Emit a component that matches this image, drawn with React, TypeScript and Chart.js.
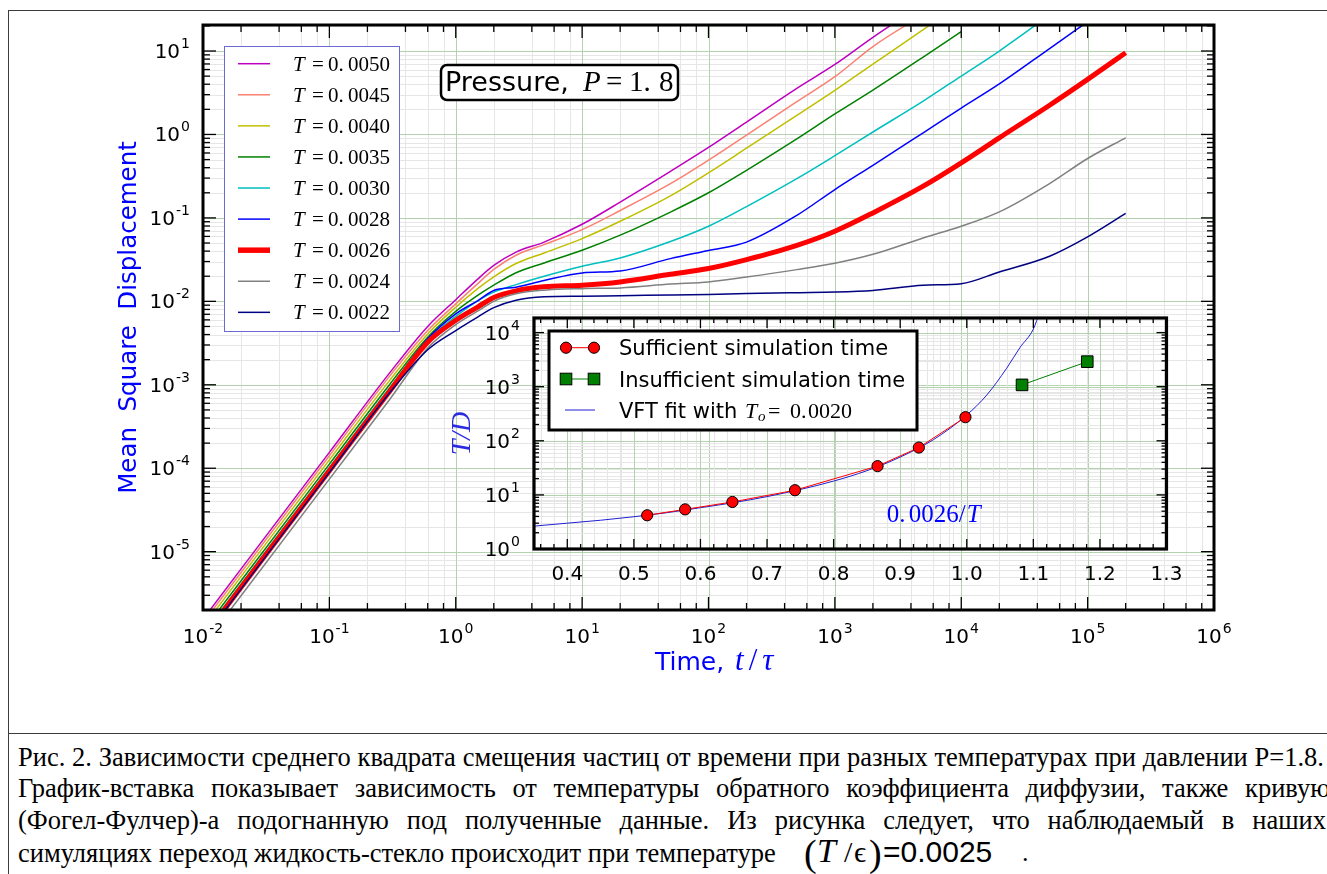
import React, { useEffect, useRef } from "react";
import { Chart, registerables } from "chart.js";

Chart.register(...registerables);

// ---------------- main chart data ----------------
const TIME = [0.01, 0.1, 0.3, 0.6, 1, 1.5, 2, 3, 5, 10, 20, 50, 100, 200, 500, 1000, 2000, 5000, 1e4, 2e4, 5e4, 1e5, 2e5];
const TEMP_LABELS = ["0.0050", "0.0045", "0.0040", "0.0035", "0.0030", "0.0028", "0.0026", "0.0024", "0.0022"];

const MSD_T0050 = [1.55e-6, 1.55e-4, 1.39e-3, 5.01e-3, 0.01047, 0.01862, 0.02692, 0.0389, 0.0513, 0.0839, 0.1545, 0.361, 0.698, 1.41, 3.57, 6.9, 14.6, 36.6, null, null, null, null, null];
const MSD_T0045 = [1.41e-6, 1.41e-4, 1.27e-3, 4.47e-3, 9.33e-3, 0.0164, 0.0241, 0.0357, 0.0479, 0.0724, 0.1227, 0.257, 0.492, 0.984, 2.47, 4.92, 11.3, 27.3, null, null, null, null, null];
const MSD_T0040 = [1.26e-6, 1.26e-4, 1.13e-3, 4.07e-3, 8.51e-3, 0.0143, 0.0197, 0.0284, 0.038, 0.0565, 0.0912, 0.184, 0.347, 0.684, 1.69, 3.37, 6.98, 18.0, 37.2, null, null, null, null];
const MSD_T0035 = [1.12e-6, 1.12e-4, 1.01e-3, 3.72e-3, 7.59e-3, 0.01186, 0.0156, 0.022, 0.0288, 0.0409, 0.0621, 0.1175, 0.2, 0.372, 0.883, 1.76, 3.4, 8.47, 17.1, null, null, null, null];
const MSD_T0030 = [1.02e-6, 1.02e-4, 9.2e-4, 3.47e-3, 6.61e-3, 0.01023, 0.01288, 0.01585, 0.01995, 0.0263, 0.0331, 0.0521, 0.0794, 0.1365, 0.295, 0.556, 1.07, 2.51, 5.01, 10.0, 26.9, null, null];
const MSD_T0028 = [9.77e-7, 9.77e-5, 8.79e-4, 3.55e-3, 7.08e-3, 0.01023, 0.01349, 0.01479, 0.01778, 0.0219, 0.0231, 0.0325, 0.0407, 0.0513, 0.1072, 0.2188, 0.4266, 1.047, 2.07, 4.03, 10.7, 22.4, null];
const MSD_T0026 = [9.33e-7, 9.33e-5, 8.39e-4, 3.24e-3, 5.93e-3, 8.59e-3, 0.01112, 0.01337, 0.01493, 0.0156, 0.0171, 0.0211, 0.0247, 0.0316, 0.0468, 0.0692, 0.1148, 0.24, 0.457, 0.912, 2.24, 4.57, 9.55];
const MSD_T0024 = [7.41e-7, 7.41e-5, 6.67e-4, 2.75e-3, 5.25e-3, 7.67e-3, 0.01, 0.0123, 0.01361, 0.0142, 0.0145, 0.0161, 0.0171, 0.0196, 0.024, 0.0286, 0.0366, 0.0575, 0.0794, 0.118, 0.258, 0.515, 0.912];
const MSD_T0022 = [8.91e-7, 8.91e-5, 8.02e-4, 2.63e-3, 4.47e-3, 6.53e-3, 8.41e-3, 0.01033, 0.01132, 0.0115, 0.0117, 0.0119, 0.0121, 0.0124, 0.0127, 0.0129, 0.0135, 0.0156, 0.0163, 0.0225, 0.0347, 0.0592, 0.113];

const MSD_SERIES = [MSD_T0050, MSD_T0045, MSD_T0040, MSD_T0035, MSD_T0030, MSD_T0028, MSD_T0026, MSD_T0024, MSD_T0022];
const SERIES_COLORS = ["#bf00bf", "#fa8072", "#bfbf00", "#008000", "#00bfbf", "#0000ff", "#ff0000", "#808080", "#000080"];
const SERIES_WIDTHS = [1.5, 1.5, 1.5, 1.5, 1.5, 1.5, 5, 1.5, 1.5];

const MAIN_X_MAJOR = [1e-2, 1e-1, 1, 10, 100, 1e3, 1e4, 1e5, 1e6];
const MAIN_X_EXP = ["-2", "-1", "0", "1", "2", "3", "4", "5", "6"];
const MAIN_Y_MAJOR = [1e-5, 1e-4, 1e-3, 1e-2, 1e-1, 1, 10];
const MAIN_Y_EXP = ["-5", "-4", "-3", "-2", "-1", "0", "1"];

// ---------------- inset data ----------------
const INV_T_SUFF = [0.52, 0.577, 0.648, 0.742, 0.866, 0.928, 0.998];
const TD_SUFF = [4.2, 5.4, 7.4, 12.2, 34, 75, 273];
const INV_T_INSUFF = [1.083, 1.181];
const TD_INSUFF = [1080, 2900];
const VFT_X = [0.35, 0.4, 0.45, 0.5, 0.55, 0.6, 0.65, 0.7, 0.75, 0.8, 0.85, 0.9, 0.95, 1.0, 1.03, 1.06, 1.08, 1.1, 1.11];
const VFT_Y = [2.65, 3.0, 3.4, 3.95, 4.7, 5.8, 7.2, 9.3, 12.6, 18, 28, 50, 105, 300, 700, 2200, 5300, 11600, 25000];

const INSET_X_TICKS = [0.4, 0.5, 0.6, 0.7, 0.8, 0.9, 1.0, 1.1, 1.2, 1.3];
const INSET_X_LABELS = ["0.4", "0.5", "0.6", "0.7", "0.8", "0.9", "1.0", "1.1", "1.2", "1.3"];
const INSET_Y_MAJOR = [1, 10, 100, 1000, 10000];
const INSET_Y_EXP = ["0", "1", "2", "3", "4"];

const GRID_MAJOR = "#b4d2b0";
const GRID_MINOR = "#e6e6e6";
const SANS = '"DejaVu Sans"';
const SERIF = '"Liberation Serif"';

function seg(ctx: CanvasRenderingContext2D, x1: number, y1: number, x2: number, y2: number) {
  ctx.beginPath();
  ctx.moveTo(x1, y1);
  ctx.lineTo(x2, y2);
  ctx.stroke();
}

function logMinors(lo: number, hi: number, mults: number[]) {
  const out: number[] = [];
  for (let e = Math.floor(Math.log10(lo)); e <= Math.ceil(Math.log10(hi)); e++) {
    for (const m of mults) {
      const v = m * Math.pow(10, e);
      if (v > lo * 1.001 && v < hi * 0.999) out.push(v);
    }
  }
  return out;
}

function drawPow(ctx: CanvasRenderingContext2D, exp: string, x: number, y: number, align: string, baseSize: number, supSize: number, supRaise: number) {
  ctx.textAlign = "left";
  ctx.textBaseline = "alphabetic";
  ctx.font = `${baseSize}px ${SANS}`;
  const w1 = ctx.measureText("10").width;
  ctx.font = `${supSize}px ${SANS}`;
  const w2 = ctx.measureText(exp).width;
  const total = w1 + 1 + w2;
  const x0 = align === "center" ? x - total / 2 : x - total;
  ctx.font = `${baseSize}px ${SANS}`;
  ctx.fillText("10", x0, y);
  ctx.font = `${supSize}px ${SANS}`;
  ctx.fillText(exp, x0 + w1 + 1, y - supRaise);
}

const mainDecor = {
  id: "mainDecor",
  beforeDatasetsDraw(chart: any) {
    const { ctx, chartArea: a } = chart;
    const xs = chart.scales.x;
    const ys = chart.scales.y;
    ctx.save();
    ctx.beginPath();
    ctx.rect(a.left, a.top, a.right - a.left, a.bottom - a.top);
    ctx.clip();
    ctx.lineWidth = 1;
    ctx.strokeStyle = GRID_MINOR;
    for (const v of logMinors(xs.min, xs.max, [2, 4, 6, 8])) {
      const p = Math.round(xs.getPixelForValue(v)) + 0.5;
      seg(ctx, p, a.top, p, a.bottom);
    }
    for (const v of logMinors(ys.min, ys.max, [2, 3, 4, 5, 6, 7, 8, 9])) {
      const p = Math.round(ys.getPixelForValue(v)) + 0.5;
      seg(ctx, a.left, p, a.right, p);
    }
    ctx.strokeStyle = GRID_MAJOR;
    for (const v of MAIN_X_MAJOR) {
      const p = Math.round(xs.getPixelForValue(v)) + 0.5;
      seg(ctx, p, a.top, p, a.bottom);
    }
    for (const v of MAIN_Y_MAJOR) {
      const p = Math.round(ys.getPixelForValue(v)) + 0.5;
      seg(ctx, a.left, p, a.right, p);
    }
    ctx.restore();
  },
  afterDatasetsDraw(chart: any) {
    const { ctx, chartArea: a } = chart;
    const xs = chart.scales.x;
    const ys = chart.scales.y;
    ctx.save();
    // inward ticks on all four sides
    ctx.strokeStyle = "#000";
    ctx.lineWidth = 1.3;
    for (const v of MAIN_X_MAJOR) {
      const p = xs.getPixelForValue(v);
      seg(ctx, p, a.bottom, p, a.bottom - 13);
      seg(ctx, p, a.top, p, a.top + 13);
    }
    for (const v of logMinors(xs.min, xs.max, [2, 4, 6, 8])) {
      const p = xs.getPixelForValue(v);
      seg(ctx, p, a.bottom, p, a.bottom - 7);
      seg(ctx, p, a.top, p, a.top + 7);
    }
    for (const v of MAIN_Y_MAJOR) {
      const p = ys.getPixelForValue(v);
      seg(ctx, a.left, p, a.left + 13, p);
      seg(ctx, a.right, p, a.right - 13, p);
    }
    for (const v of logMinors(ys.min, ys.max, [2, 3, 4, 5, 6, 7, 8, 9])) {
      const p = ys.getPixelForValue(v);
      seg(ctx, a.left, p, a.left + 7, p);
      seg(ctx, a.right, p, a.right - 7, p);
    }
    ctx.lineWidth = 3;
    ctx.strokeRect(a.left, a.top, a.right - a.left, a.bottom - a.top);

    // tick labels
    ctx.fillStyle = "#000";
    MAIN_X_MAJOR.forEach((v, i) => {
      drawPow(ctx, MAIN_X_EXP[i], xs.getPixelForValue(v), a.bottom + 33, "center", 20, 14, 10);
    });
    MAIN_Y_MAJOR.forEach((v, i) => {
      drawPow(ctx, MAIN_Y_EXP[i], a.left - 13, ys.getPixelForValue(v) + 7, "right", 20, 14, 10);
    });

    // axis titles
    ctx.fillStyle = "#0000ff";
    ctx.save();
    ctx.translate(136, (a.top + a.bottom) / 2);
    ctx.rotate(-Math.PI / 2);
    ctx.font = `24.5px ${SANS}`;
    ctx.textAlign = "center";
    ctx.textBaseline = "alphabetic";
    ctx.fillText("Mean  Square  Displacement", 0, 0);
    ctx.restore();

    ctx.textAlign = "left";
    ctx.font = `25px ${SANS}`;
    const tx = 655;
    const ty = 670;
    ctx.fillText("Time,", tx, ty);
    let cx = tx + ctx.measureText("Time, ").width + 3;
    ctx.font = `italic 31px ${SERIF}`;
    ctx.fillText("t", cx, ty);
    cx += ctx.measureText("t").width + 5;
    ctx.font = `31px ${SERIF}`;
    ctx.fillText("/", cx, ty);
    cx += ctx.measureText("/").width + 5;
    ctx.font = `italic 31px ${SERIF}`;
    ctx.fillText("\u03C4", cx, ty);

    // legend
    const lx = 224.5, ly = 46.5, lw = 175, lh = 285;
    ctx.fillStyle = "#fff";
    ctx.fillRect(lx, ly, lw, lh);
    ctx.strokeStyle = "#6a6ad2";
    ctx.lineWidth = 1;
    ctx.strokeRect(lx, ly, lw, lh);
    TEMP_LABELS.forEach((lab, i) => {
      const ry = 63.7 + i * 31.08;
      ctx.strokeStyle = SERIES_COLORS[i];
      ctx.lineWidth = SERIES_WIDTHS[i] === 5 ? 5.5 : 1.5;
      seg(ctx, 238, ry, 270, ry);
      ctx.fillStyle = "#000";
      ctx.font = `italic 21px ${SERIF}`;
      ctx.fillText("T", 293, ry + 7);
      ctx.font = `21px ${SERIF}`;
      ctx.fillText("=", 312, ry + 7);
      const parts = lab.split(".");
      ctx.fillText(parts[0] + ".", 328, ry + 7);
      ctx.fillText(parts[1], 348, ry + 7);
    });

    // Pressure annotation box
    ctx.fillStyle = "#fff";
    ctx.strokeStyle = "#000";
    ctx.lineWidth = 2.5;
    ctx.beginPath();
    ctx.roundRect(441, 65, 237, 35, 6);
    ctx.fill();
    ctx.stroke();
    ctx.fillStyle = "#000";
    ctx.font = `27px ${SANS}`;
    ctx.fillText("Pressure,", 445, 91);
    ctx.font = `italic 29px ${SERIF}`;
    ctx.fillText("P", 583, 91);
    ctx.font = `29px ${SERIF}`;
    ctx.fillText("=", 606, 91);
    ctx.fillText("1.", 629, 91);
    ctx.fillText("8", 659, 91);
    ctx.restore();
  },
};

const insetDecor = {
  id: "insetDecor",
  beforeDatasetsDraw(chart: any) {
    const { ctx, chartArea: a } = chart;
    const xs = chart.scales.x;
    const ys = chart.scales.y;
    ctx.save();
    ctx.beginPath();
    ctx.rect(a.left, a.top, a.right - a.left, a.bottom - a.top);
    ctx.clip();
    ctx.lineWidth = 1;
    ctx.strokeStyle = GRID_MINOR;
    for (let k = 18; k <= 65; k++) {
      if (k % 5 === 0) continue;
      const p = Math.round(xs.getPixelForValue(k * 0.02)) + 0.5;
      seg(ctx, p, a.top, p, a.bottom);
    }
    for (const v of logMinors(ys.min, ys.max, [2, 3, 4, 5, 6, 7, 8, 9])) {
      const p = Math.round(ys.getPixelForValue(v)) + 0.5;
      seg(ctx, a.left, p, a.right, p);
    }
    ctx.strokeStyle = GRID_MAJOR;
    for (const v of INSET_X_TICKS) {
      const p = Math.round(xs.getPixelForValue(v)) + 0.5;
      seg(ctx, p, a.top, p, a.bottom);
    }
    for (const v of INSET_Y_MAJOR) {
      const p = Math.round(ys.getPixelForValue(v)) + 0.5;
      seg(ctx, a.left, p, a.right, p);
    }
    ctx.restore();
  },
  afterDatasetsDraw(chart: any) {
    const { ctx, chartArea: a } = chart;
    const xs = chart.scales.x;
    const ys = chart.scales.y;
    ctx.save();
    ctx.strokeStyle = "#000";
    ctx.lineWidth = 1.3;
    for (const v of INSET_X_TICKS) {
      const p = xs.getPixelForValue(v);
      seg(ctx, p, a.bottom, p, a.bottom - 10);
      seg(ctx, p, a.top, p, a.top + 10);
    }
    for (let k = 18; k <= 65; k++) {
      if (k % 5 === 0) continue;
      const p = xs.getPixelForValue(k * 0.02);
      if (p <= a.left || p >= a.right) continue;
      seg(ctx, p, a.bottom, p, a.bottom - 5);
      seg(ctx, p, a.top, p, a.top + 5);
    }
    for (const v of INSET_Y_MAJOR) {
      const p = ys.getPixelForValue(v);
      seg(ctx, a.left, p, a.left + 10, p);
      seg(ctx, a.right, p, a.right - 10, p);
    }
    for (const v of logMinors(ys.min, ys.max, [2, 3, 4, 5, 6, 7, 8, 9])) {
      const p = ys.getPixelForValue(v);
      seg(ctx, a.left, p, a.left + 5, p);
      seg(ctx, a.right, p, a.right - 5, p);
    }
    ctx.lineWidth = 3.2;
    ctx.strokeRect(a.left, a.top, a.right - a.left, a.bottom - a.top);

    // tick labels
    ctx.fillStyle = "#000";
    ctx.font = `20px ${SANS}`;
    ctx.textAlign = "center";
    ctx.textBaseline = "alphabetic";
    INSET_X_TICKS.forEach((v, i) => {
      ctx.fillText(INSET_X_LABELS[i], xs.getPixelForValue(v), a.bottom + 31);
    });
    INSET_Y_MAJOR.forEach((v, i) => {
      drawPow(ctx, INSET_Y_EXP[i], a.left - 14, ys.getPixelForValue(v) + 7, "right", 20, 14, 10);
    });

    // y title T/D
    ctx.save();
    ctx.fillStyle = "#2a2ae0";
    ctx.translate(50, (a.top + a.bottom) / 2);
    ctx.rotate(-Math.PI / 2);
    ctx.font = `italic 28px ${SERIF}`;
    ctx.textAlign = "center";
    ctx.fillText("T/D", 0, 0);
    ctx.restore();

    // annotation 0.0026/T
    ctx.fillStyle = "#0000ff";
    ctx.textAlign = "left";
    const ax = xs.getPixelForValue(0.88);
    const ay = ys.getPixelForValue(3.1);
    ctx.font = `25px ${SERIF}`;
    ctx.fillText("0.", ax, ay);
    ctx.fillText("0026/", ax + 22, ay);
    ctx.font = `italic 25px ${SERIF}`;
    ctx.fillText("T", ax + 22 + ctx.measureText("0026/").width + 1, ay);

    // legend
    const bx = 129, by = 31, bw = 368, bh = 99;
    ctx.fillStyle = "#fff";
    ctx.fillRect(bx, by, bw, bh);
    ctx.strokeStyle = "#000";
    ctx.lineWidth = 3;
    ctx.strokeRect(bx, by, bw, bh);
    const r1 = 47.7, r2 = 79, r3 = 110;
    ctx.strokeStyle = "#ff0000";
    ctx.lineWidth = 1;
    seg(ctx, 146, r1, 174, r1);
    for (const mx of [146, 174]) {
      ctx.beginPath();
      ctx.arc(mx, r1, 5.6, 0, Math.PI * 2);
      ctx.fillStyle = "#ff0000";
      ctx.fill();
      ctx.strokeStyle = "#000";
      ctx.stroke();
    }
    ctx.strokeStyle = "#008000";
    seg(ctx, 146, r2, 174, r2);
    for (const mx of [146, 174]) {
      ctx.fillStyle = "#008000";
      ctx.fillRect(mx - 5.8, r2 - 5.8, 11.6, 11.6);
      ctx.strokeStyle = "#000";
      ctx.strokeRect(mx - 5.8, r2 - 5.8, 11.6, 11.6);
    }
    ctx.strokeStyle = "#2020d0";
    seg(ctx, 145, r3, 175, r3);
    ctx.fillStyle = "#000";
    ctx.font = `21px ${SANS}`;
    ctx.fillText("Sufficient simulation time", 199, r1 + 7.5);
    ctx.fillText("Insufficient simulation time", 199, r2 + 7.5);
    ctx.fillText("VFT fit with", 199, r3 + 7.5);
    ctx.font = `italic 22px ${SERIF}`;
    ctx.fillText("T", 325, r3 + 7.5);
    ctx.font = `italic 15px ${SERIF}`;
    ctx.fillText("o", 338, r3 + 11);
    ctx.font = `22px ${SERIF}`;
    ctx.fillText("=", 348, r3 + 7.5);
    ctx.fillText("0.", 370, r3 + 7.5);
    ctx.fillText("0020", 388, r3 + 7.5);
    ctx.restore();
  },
};

function mainConfig(): any {
  const datasets = MSD_SERIES.map((arr, i) => ({
    label: "T=" + TEMP_LABELS[i],
    data: TIME.map((t, j) => ({ x: t, y: arr[j] })).filter((p) => p.y !== null),
    borderColor: SERIES_COLORS[i],
    backgroundColor: SERIES_COLORS[i],
    borderWidth: SERIES_WIDTHS[i],
    pointRadius: 0,
    fill: false,
    order: 8 - i,
    cubicInterpolationMode: "monotone",
  }));
  return {
    type: "line",
    data: { datasets },
    options: {
      responsive: false,
      animation: false,
      events: [],
      layout: { padding: { left: 203, right: 113, top: 25, bottom: 122 } },
      scales: {
        x: { type: "logarithmic", min: 0.01, max: 1e6, display: false },
        y: { type: "logarithmic", min: 2.0e-6, max: 20.5, display: false },
      },
      plugins: { legend: { display: false }, tooltip: { enabled: false } },
    },
    plugins: [mainDecor],
  };
}

function insetConfig(): any {
  return {
    type: "line",
    data: {
      datasets: [
        {
          label: "Sufficient simulation time",
          data: INV_T_SUFF.map((x, i) => ({ x, y: TD_SUFF[i] })),
          borderColor: "#ff0000",
          borderWidth: 1,
          pointRadius: 5.6,
          pointBackgroundColor: "#ff0000",
          pointBorderColor: "#000",
          pointBorderWidth: 1,
          order: 1,
        },
        {
          label: "Insufficient simulation time",
          data: INV_T_INSUFF.map((x, i) => ({ x, y: TD_INSUFF[i] })),
          borderColor: "#008000",
          borderWidth: 1,
          pointStyle: "rect",
          pointRadius: 8.2,
          pointBackgroundColor: "#008000",
          pointBorderColor: "#000",
          pointBorderWidth: 1,
          order: 0,
        },
        {
          label: "VFT fit",
          data: VFT_X.map((x, i) => ({ x, y: VFT_Y[i] })),
          borderColor: "#2020d0",
          borderWidth: 1,
          pointRadius: 0,
          cubicInterpolationMode: "monotone",
          order: 2,
        },
      ],
    },
    options: {
      responsive: false,
      animation: false,
      events: [],
      layout: { padding: { left: 114, right: 53.5, top: 18, bottom: 51 } },
      scales: {
        x: { type: "linear", min: 0.35, max: 1.3, display: false },
        y: { type: "logarithmic", min: 1, max: 18600, display: false },
      },
      plugins: { legend: { display: false }, tooltip: { enabled: false } },
    },
    plugins: [insetDecor],
  };
}

const CAPTION_1 = "Рис. 2. Зависимости среднего квадрата смещения частиц от времени при разных температурах при давлении P=1.8.";
const CAPTION_2 = "График-вставка показывает зависимость от температуры обратного коэффициента диффузии, также кривую";
const CAPTION_3 = "(Фогел-Фулчер)-а подогнанную под полученные данные. Из рисунка следует, что наблюдаемый в наших";
const CAPTION_4 = "симуляциях переход жидкость-стекло происходит при температуре";

const CAP_SIZE = 26.5;

function Piece(props: { x: number; base: number; size: number; family: string; italic?: boolean; asc: number; children: any }) {
  return (
    <span
      style={{
        position: "absolute",
        left: props.x,
        top: props.base - props.asc * props.size,
        fontFamily: props.family,
        fontSize: props.size,
        lineHeight: `${props.size}px`,
        fontStyle: props.italic ? "italic" : "normal",
        whiteSpace: "pre",
        color: "#000",
      }}
    >
      {props.children}
    </span>
  );
}

export default function App() {
  const mainRef = useRef<HTMLCanvasElement>(null);
  const insetRef = useRef<HTMLCanvasElement>(null);

  useEffect(() => {
    const c1 = new Chart(mainRef.current as HTMLCanvasElement, mainConfig());
    const c2 = new Chart(insetRef.current as HTMLCanvasElement, insetConfig());
    return () => {
      c1.destroy();
      c2.destroy();
    };
  }, []);

  const capLine = (text: string, base: number, width: number, justify: boolean) => (
    <div
      style={{
        position: "absolute",
        left: 18,
        top: base - 0.8375 * CAP_SIZE,
        width,
        fontFamily: '"Liberation Serif"',
        fontSize: CAP_SIZE,
        lineHeight: `${CAP_SIZE}px`,
        whiteSpace: "nowrap",
        textAlign: justify ? "justify" : "left",
        textAlignLast: justify ? "justify" : "left",
        color: "#000",
      }}
    >
      {text}
    </div>
  );

  return (
    <div style={{ position: "relative", width: 1327, height: 874, overflow: "hidden", background: "#fff" }}>
      <style>{`html,body{margin:0;padding:0;overflow:hidden;background:#fff;}`}</style>
      <canvas ref={mainRef} width={1327} height={732} style={{ position: "absolute", left: 0, top: 0 }} />
      <canvas ref={insetRef} width={800} height={300} style={{ position: "absolute", left: 420, top: 300 }} />
      <div style={{ position: "absolute", left: 8, top: 10, width: 1400, height: 0, borderTop: "1px solid #3c3c3c" }} />
      <div style={{ position: "absolute", left: 8, top: 10, width: 0, height: 900, borderLeft: "1px solid #3c3c3c" }} />
      <div style={{ position: "absolute", left: 8, top: 733, width: 1400, height: 0, borderTop: "1px solid #3c3c3c" }} />
      {capLine(CAPTION_1, 766, 1306, true)}
      {capLine(CAPTION_2, 797, 1312, true)}
      {capLine(CAPTION_3, 829, 1308, true)}
      {capLine(CAPTION_4, 862, 800, false)}
      <Piece x={804} base={866} size={38} family='"Liberation Serif"' asc={0.8375}>(</Piece>
      <Piece x={817} base={862} size={34} family='"Liberation Serif"' italic asc={0.8375}>T</Piece>
      <Piece x={844} base={862} size={30} family='"Liberation Serif"' asc={0.8375}>/</Piece>
      <Piece x={854} base={862} size={30} family='"Liberation Serif"' asc={0.8375}>{"\u03F5"}</Piece>
      <Piece x={869} base={866} size={38} family='"Liberation Serif"' asc={0.8375}>)</Piece>
      <Piece x={883} base={862} size={30} family='"Liberation Sans"' asc={0.8465}>=0.0025</Piece>
      <Piece x={1022} base={862} size={26} family='"Liberation Serif"' asc={0.8375}>.</Piece>
    </div>
  );
}
